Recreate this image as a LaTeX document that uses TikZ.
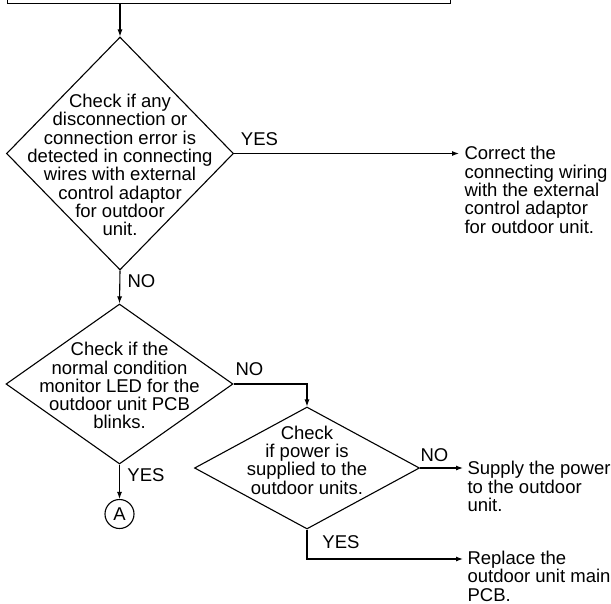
\documentclass[tikz,border=0pt]{standalone}
\usepackage{fontspec}
\setmainfont{Liberation Sans}
\usetikzlibrary{positioning, arrows.meta, shapes.geometric}

\begin{document}
\begin{tikzpicture}[x=1pt, y=-1pt, line width=1.1pt,
                    every node/.style={font=\fontsize{18.5}{18.3}\selectfont, inner sep=0pt},
                    decision/.style={draw, diamond, inner sep=0pt},
                    question/.style={align=center},
                    remedy/.style={align=left, anchor=north west},
                    flow/.style={-{Latex[length=7pt, width=5pt]}},
                    connector/.style={draw, circle, minimum size=29pt}]
                    % Page frame
                    \useasboundingbox (0,0) rectangle (611,603);
                    \clip (0,0) rectangle (611,603);

                    % Previous step (cut off at the top)
                    \node[draw, anchor=south west, minimum width=443pt, minimum height=40pt] (prev) at (7,4.3) {};

                    % Decisions
                    \node[decision, minimum width=227pt, minimum height=233pt] (d1) at (120,153.5) {};
                    \node[question] (d1text) at (120,165) {Check if any\\disconnection or\\connection error is\\detected in connecting\\wires with external\\control adaptor\\for outdoor\\unit.};

                    \node[decision, minimum width=227pt, minimum height=160pt] (d2) at (119.5,384) {};
                    \node[question] (d2text) at (119.5,385.7) {Check if the\\normal condition\\monitor LED for the\\outdoor unit PCB\\blinks.};

                    \node[decision, minimum width=225pt, minimum height=122pt] (d3) at (307,468) {};
                    \node[question] (d3text) at (307,460) {Check\\if power is\\supplied to the\\outdoor units.};

                    % Remedies
                    \node[remedy] (wiring) at (464,146) {Correct the\\connecting wiring\\with the external\\control adaptor\\for outdoor unit.};
                    \node[remedy] (power) at (467,461) {Supply the power\\to the outdoor\\unit.};
                    \node[remedy] (pcb) at (467,550.5) {Replace the\\outdoor unit main\\PCB.};
                    \coordinate (pcbin) at (467,559);

                    % Connector
                    \node[connector] (A) at (119.5,514) {A};

                    % Flow lines
                    \draw[flow] (prev.south -| d1.north) -- (d1.north);
                    \draw[flow, shorten >=5pt] (d1.east) -- (wiring.west |- d1.east);
                    \draw[flow] (d1.south) -- (d2.north);
                    \draw[flow] (d2.east) -| (d3.north);
                    \draw[flow] (d2.south) -- (A.north);
                    \draw[flow, shorten >=4pt] (d3.east) -- (power.west |- d3.east);
                    \draw[flow, shorten >=4pt] (d3.south) |- (pcbin);

                    % Branch labels
                    \node (yes1) at (259.5,139) {YES};
                    \node (no1) at (141.5,281.5) {NO};
                    \node (no2) at (249.5,369) {NO};
                    \node (yes2) at (146,475.5) {YES};
                    \node (no3) at (434.5,455) {NO};
                    \node (yes3) at (341,542) {YES};

                \end{tikzpicture}
\end{document}
